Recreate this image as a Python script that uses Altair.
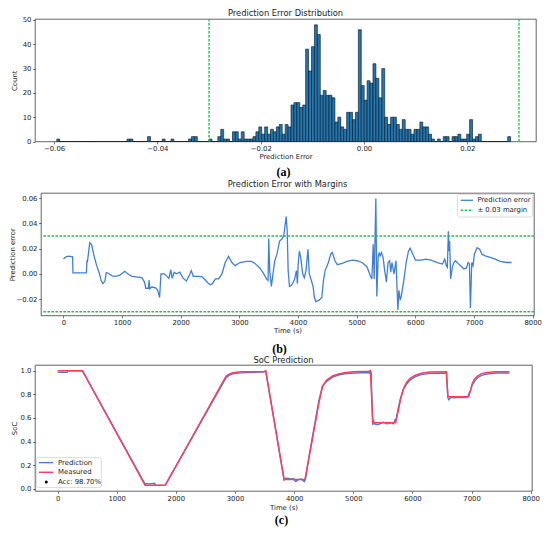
import altair as alt
import numpy as np
import pandas as pd

FONT = "DejaVu Sans"
INK = "#222222"
BLUE = "#3f80d6"
RED = "#ff3d5c"
GREEN = "#22c04a"
BAR = "#1f77b4"

# ---------------- (a) histogram of prediction error ----------------
hist_lo, hist_hi = -0.05948, 0.02838
hist_counts = [
    1, 0, 0, 0, 0, 0, 0, 0, 0, 0,
    0, 0, 0, 0, 0, 0, 0, 0, 0, 0,
    0, 0, 0, 0, 1, 1, 0, 0, 0, 0,
    0, 2, 0, 0, 0, 0, 1, 0, 0, 1,
    0, 0, 0, 0, 0, 1, 2, 2, 0, 0,
    0, 0, 1, 0, 0, 2, 5, 1, 1, 0,
    4, 4, 1, 4, 1, 1, 1, 2, 4, 6,
    3, 6, 3, 5, 4, 6, 7, 3, 7, 6,
    15, 16, 16, 14, 15, 38, 29, 39, 48, 44,
    19, 21, 19, 19, 18, 8, 10, 6, 5, 12,
    12, 9, 12, 46, 23, 17, 25, 24, 32, 26,
    18, 30, 10, 7, 10, 10, 7, 5, 9, 5,
    5, 3, 5, 5, 8, 6, 6, 3, 1, 0,
    1, 0, 2, 2, 0, 2, 2, 3, 1, 1,
    3, 9, 1, 2, 3, 0, 0, 0, 0, 0,
    0, 0, 0, 0, 2,
]
margin_lo, margin_hi = -0.03, 0.03
hist_xticks = [-0.06, -0.04, -0.02, 0.0, 0.02]
hist_yticks = [0, 10, 20, 30, 40, 50]

# ---------------- (b) prediction error over time ----------------
err_t = [0, 45, 90, 157, 163, 393, 399, 404, 408, 449, 483, 522, 567, 607, 646, 674, 708,
         730, 764, 831, 888, 955, 1045, 1112, 1169, 1270, 1337, 1382, 1404, 1449, 1461,
         1472, 1506, 1573, 1607, 1640, 1663, 1719, 1758, 1798, 1831, 1854, 1888, 1927,
         1983, 2039, 2096, 2152, 2180, 2213, 2292, 2360, 2410, 2460, 2505, 2540, 2590,
         2646, 2702, 2758, 2815, 2871, 2927, 3011, 3124, 3208, 3264, 3348, 3416, 3461,
         3489, 3500, 3517, 3545, 3573, 3601, 3640, 3685, 3730, 3758, 3798, 3815, 3831,
         3854, 3888, 3938, 3972, 3989, 4000, 4022, 4045, 4079, 4107, 4135, 4169, 4191,
         4219, 4258, 4275, 4303, 4360, 4404, 4433, 4461, 4517, 4556, 4584, 4629, 4669,
         4753, 4837, 4921, 5006, 5090, 5174, 5230, 5258, 5281, 5298, 5326, 5343, 5365,
         5382, 5399, 5421, 5449, 5477, 5506, 5534, 5562, 5579, 5601, 5635, 5669, 5702,
         5719, 5742, 5758, 5803, 5843, 5882, 5910, 5944, 6000, 6096, 6180, 6264, 6376,
         6461, 6500, 6528, 6545, 6562, 6573, 6584, 6601, 6629, 6657, 6685, 6725, 6770,
         6826, 6871, 6899, 6921, 6938, 6961, 6983, 7006, 7051, 7096, 7135, 7191, 7275,
         7360, 7444, 7556, 7640]
err_v = [0.0117, 0.0135, 0.0140, 0.0135, 0.0008, 0.0008, 0.0085, 0.0110, 0.0090, 0.0247,
         0.0230, 0.0143, 0.0065, 0.0013, -0.0057, -0.0078, -0.0057, 0.0010, 0.0005,
         -0.0016, -0.0020, -0.0013, 0.0020, -0.0005, -0.0020, -0.0026, -0.0030, -0.0065,
         -0.0114, -0.0114, -0.0050, -0.0117, -0.0104, -0.0110, -0.0130, -0.0187, 0.0000,
         0.0000, -0.0016, -0.0036, 0.0031, -0.0036, 0.0013, 0.0000, 0.0013, -0.0034,
         -0.0057, -0.0005, 0.0026, -0.0020, -0.0020, -0.0022, -0.0045, -0.0070, -0.0086,
         -0.0078, -0.0040, -0.0040, 0.0000, 0.0090, 0.0138, 0.0090, 0.0065, 0.0090,
         0.0099, 0.0099, 0.0083, 0.0047, 0.0000, -0.0040, -0.0052, 0.0280, 0.0026,
         -0.0099, 0.0000, 0.0099, 0.0156, 0.0260, 0.0278, 0.0312, 0.0455, 0.0340, 0.0026,
         -0.0099, -0.0090, -0.0047, 0.0026, -0.0078, 0.0065, 0.0180, 0.0130, 0.0000,
         -0.0030, 0.0026, 0.0195, 0.0000, -0.0040, -0.0104, -0.0180, -0.0220, -0.0208,
         -0.0187, -0.0052, 0.0026, 0.0090, 0.0156, 0.0169, 0.0104, 0.0073, 0.0083, 0.0099,
         0.0109, 0.0104, 0.0090, 0.0057, -0.0013, -0.0040, 0.0234, -0.0040, 0.0597,
         -0.0180, 0.0130, 0.0169, 0.0143, 0.0169, 0.0130, 0.0026, -0.0065, 0.0090, 0.0104,
         0.0013, 0.0090, 0.0000, 0.0104, -0.0286, -0.0130, -0.0208, -0.0180, -0.0052,
         0.0090, 0.0180, 0.0203, 0.0169, 0.0109, 0.0109, 0.0117, 0.0109, 0.0090, 0.0078,
         0.0117, 0.0065, 0.0052, 0.0338, 0.0180, 0.0260, -0.0040, 0.0052, 0.0090, 0.0104,
         0.0083, 0.0065, 0.0039, 0.0047, 0.0090, 0.0078, -0.0273, 0.0090, 0.0065, 0.0156,
         0.0208, 0.0195, 0.0156, 0.0143, 0.0130, 0.0117, 0.0099, 0.0090, 0.0090]
err_yticks = [-0.02, 0.0, 0.02, 0.04, 0.06]
time_ticks = [0, 1000, 2000, 3000, 4000, 5000, 6000, 7000, 8000]

# ---------------- (c) SoC measured vs predicted ----------------
meas_t = [0, 420, 1480, 1820, 2850, 2900, 2950, 3000, 3100, 3490, 3520, 3830, 4183, 4250,
          4330, 4420, 4480, 4550, 4650, 4750, 4850, 5000, 5270, 5290, 5330, 5715, 5760,
          5800, 5850, 5900, 5960, 6050, 6150, 6300, 6575, 6600, 6950, 6980, 7010, 7050,
          7100, 7170, 7260, 7400, 7640]
meas_v = [1.0, 1.0, 0.03, 0.03, 0.955, 0.97, 0.98, 0.985, 0.99, 0.99, 1.0, 0.08, 0.08,
          0.26, 0.48, 0.73, 0.87, 0.92, 0.955, 0.972, 0.983, 0.99, 0.995, 1.0, 0.56, 0.56,
          0.66, 0.76, 0.85, 0.90, 0.935, 0.962, 0.978, 0.988, 0.99, 0.78, 0.78, 0.83, 0.89,
          0.93, 0.955, 0.975, 0.985, 0.99, 0.99]
pred_t = [0, 40, 80, 120, 163, 170, 420, 1480, 1500, 1560, 1640, 1660, 1820, 2850, 2900,
          2950, 3000, 3100, 3490, 3520, 3830, 3860, 3900, 3950, 3990, 4000, 4030, 4080,
          4120, 4170, 4190, 4250, 4330, 4420, 4480, 4550, 4650, 4750, 4850, 5000, 5270,
          5285, 5300, 5330, 5345, 5370, 5420, 5480, 5510, 5560, 5600, 5640, 5680, 5705,
          5720, 5760, 5800, 5850, 5900, 5960, 6050, 6150, 6300, 6575, 6600, 6615, 6650,
          6700, 6800, 6900, 6940, 6950, 6980, 7010, 7050, 7100, 7170, 7260, 7400, 7640]
pred_v = [0.988, 0.986, 0.987, 0.986, 0.987, 0.999, 0.999, 0.040, 0.043, 0.042, 0.048,
          0.030, 0.031, 0.940, 0.960, 0.972, 0.977, 0.981, 0.990, 0.995, 0.075, 0.090,
          0.088, 0.084, 0.088, 0.075, 0.062, 0.080, 0.083, 0.061, 0.080, 0.27, 0.50, 0.75,
          0.87, 0.91, 0.945, 0.963, 0.974, 0.98, 0.985, 0.975, 0.99, 0.54, 0.575, 0.547,
          0.545, 0.557, 0.566, 0.550, 0.552, 0.56, 0.55, 0.585, 0.58, 0.68, 0.77, 0.845,
          0.885, 0.92, 0.95, 0.967, 0.977, 0.978, 0.77, 0.755, 0.775, 0.77, 0.775, 0.772,
          0.78, 0.80, 0.83, 0.875, 0.91, 0.94, 0.96, 0.972, 0.98, 0.98]
soc_yticks = [0.0, 0.2, 0.4, 0.6, 0.8, 1.0]

# ---------------- tables ----------------
edges = np.linspace(hist_lo, hist_hi, len(hist_counts) + 1)
df_hist = pd.DataFrame({"b0": edges[:-1], "b1": edges[1:], "count": hist_counts,
                        "zero": np.zeros(len(hist_counts))})
df_err = pd.DataFrame({"t": err_t, "e": err_v})
df_meas = pd.DataFrame({"t": meas_t, "s": meas_v})
df_pred = pd.DataFrame({"t": pred_t, "s": pred_v})

LBL = 6.9
DASH = [2.6, 1.4]


def txt(s, x, y, size=LBL, font=FONT, weight="normal", align="center", color=INK):
    return alt.Chart(pd.DataFrame({"t": [s]})).mark_text(
        align=align, baseline="middle", fontSize=size, font=font,
        fontWeight=weight, color=color
    ).encode(text="t:N", x=alt.value(x), y=alt.value(y))


def seg(x1, x2, y, color, width=1.1, dash=None):
    kw = dict(stroke=color, color=color, strokeWidth=width)
    if dash:
        kw["strokeDash"] = dash
    return alt.Chart(pd.DataFrame({"a": [0]})).mark_rule(**kw).encode(
        x=alt.value(x1), x2=alt.value(x2), y=alt.value(y))


def box(x1, x2, y1, y2):
    return alt.Chart(pd.DataFrame({"a": [0]})).mark_rect(
        fill="white", fillOpacity=0.85, stroke="#cccccc", strokeWidth=0.7, cornerRadius=2
    ).encode(x=alt.value(x1), x2=alt.value(x2), y=alt.value(y1), y2=alt.value(y2))


def xaxis(values, fmt, title, ty):
    return alt.Axis(values=values, format=fmt, title=title, titleY=ty, titleBaseline="middle",
                    titleFontSize=LBL, titleFont=FONT, titleFontWeight="normal", titleColor=INK,
                    labelOverlap=False)


def yaxis(values, fmt, title, tx):
    return alt.Axis(values=values, format=fmt, title=title, titleX=tx, titleBaseline="middle",
                    titleFontSize=LBL, titleFont=FONT, titleFontWeight="normal", titleColor=INK,
                    labelOverlap=False)


def margin_rule(v, channel, scale, axis):
    d = pd.DataFrame({"v": [v]})
    if channel == "x":
        enc = {"x": alt.X("v:Q", scale=scale, axis=axis)}
    else:
        enc = {"y": alt.Y("v:Q", scale=scale, axis=axis)}
    return alt.Chart(d).mark_rule(stroke=GREEN, color=GREEN, strokeWidth=1.4,
                                  strokeDash=DASH).encode(**enc)


# ---------------- panel (a) ----------------
WA, HA = 501, 122.5
xa = alt.Scale(domain=[-0.0637, 0.0333], nice=False, zero=False)
ya = alt.Scale(domain=[0, 50.4], nice=False, zero=False)
ax_xa = xaxis(hist_xticks, ".2f", "Prediction Error", 15.3)
ax_ya = yaxis(hist_yticks, "d", "Count", -20.5)
bars = alt.Chart(df_hist).mark_bar(fill=BAR, stroke="#111111", strokeWidth=0.6).encode(
    x=alt.X("b0:Q", scale=xa, axis=ax_xa),
    x2="b1:Q",
    y=alt.Y("count:Q", scale=ya, axis=ax_ya),
    y2="zero:Q",
)
panel_a = alt.layer(
    bars,
    margin_rule(margin_lo, "x", xa, ax_xa),
    margin_rule(margin_hi, "x", xa, ax_xa),
    txt("Prediction Error Distribution", WA / 2, -5.5, size=8.3),
    txt("(a)", WA / 2 - 2, HA + 30.5, size=12, font="Liberation Serif", weight="bold", color="#000"),
).properties(width=WA, height=HA)

# ---------------- panel (b) ----------------
WB, HB = 493, 122.5
xt_b = alt.Scale(domain=[-382, 8022], nice=False, zero=False)
ye = alt.Scale(domain=[-0.0330, 0.0641], nice=False, zero=False)
ax_xb = xaxis(time_ticks, "d", "Time (s)", 15)
ax_yb = yaxis(err_yticks, ".2f", "Prediction error", -28.5)
eline = alt.Chart(df_err).mark_line(color=BLUE, strokeWidth=1.3).encode(
    x=alt.X("t:Q", scale=xt_b, axis=ax_xb),
    y=alt.Y("e:Q", scale=ye, axis=ax_yb),
)
bx2 = WB - 1.6
bx1 = bx2 - 75
panel_b = alt.layer(
    eline,
    margin_rule(margin_hi, "y", ye, ax_yb),
    margin_rule(margin_lo, "y", ye, ax_yb),
    box(bx1, bx2, 1.3, 24),
    seg(bx1 + 3.3, bx1 + 15.6, 7.3, BLUE, 1.3),
    seg(bx1 + 3.3, bx1 + 15.6, 17.3, GREEN, 1.4, DASH),
    txt("Prediction error", bx1 + 20, 7.3, align="left"),
    txt("\u00b1 0.03 margin", bx1 + 20, 17.3, align="left"),
    txt("Prediction Error with Margins", WB / 2, -8.5, size=8.3),
    txt("(b)", WB / 2 - 8, HB + 33, size=12, font="Liberation Serif", weight="bold", color="#000"),
).properties(width=WB, height=HB)

spacer = alt.Chart(pd.DataFrame({"a": [0]})).mark_point(opacity=0).encode(
    x=alt.value(0), y=alt.value(0)
).properties(width=6, height=HB, view=alt.ViewBackground(strokeOpacity=0, strokeWidth=0))
row_b = alt.hconcat(spacer, panel_b, spacing=0, bounds="flush")

# ---------------- panel (c) ----------------
WC, HC = 497, 126
xt_c = alt.Scale(domain=[-382, 8022], nice=False, zero=False)
ys = alt.Scale(domain=[-0.018, 1.048], nice=False, zero=False)
ax_xc = xaxis(time_ticks, "d", "Time (s)", 16.5)
ax_yc = yaxis(soc_yticks, ".1f", "SoC", -20.5)
pline = alt.Chart(df_pred).mark_line(color=BLUE, strokeWidth=1.4).encode(
    x=alt.X("t:Q", scale=xt_c, axis=ax_xc),
    y=alt.Y("s:Q", scale=ys, axis=ax_yc),
)
mline = alt.Chart(df_meas).mark_line(color=RED, strokeWidth=1.5).encode(
    x=alt.X("t:Q", scale=xt_c, axis=ax_xc), y=alt.Y("s:Q", scale=ys, axis=ax_yc))
dot = alt.Chart(pd.DataFrame({"a": [0]})).mark_point(filled=True, color="black", size=9, opacity=1).encode(
    x=alt.value(11.3), y=alt.value(117))
panel_c = alt.layer(
    pline, mline,
    box(1.3, 66.3, 92.6, 122.6),
    seg(4, 18, 97.6, BLUE, 1.4),
    seg(4, 18, 107.3, RED, 1.5),
    dot,
    txt("Prediction", 23, 97.6, align="left"),
    txt("Measured", 23, 107.3, align="left"),
    txt("Acc: 98.70%", 23, 117, align="left"),
    txt("SoC Prediction", WC / 2, -4.5, size=8.3),
    txt("(c)", WC / 2 - 2, HC + 29, size=12, font="Liberation Serif", weight="bold", color="#000"),
).properties(width=WC, height=HC)

chart = alt.vconcat(panel_a, row_b, panel_c, spacing=0).configure_view(
    stroke=INK, strokeWidth=0.7
).configure_axis(
    grid=False, domain=False, tickColor=INK, tickWidth=0.6, tickSize=2.4,
    labelFont=FONT, labelFontSize=LBL, labelColor=INK, labelPadding=1.6, labelOverlap=False,
).properties(background="white", padding=0)

chart.save("out.html", embed_options={"renderer": "svg", "actions": False})
